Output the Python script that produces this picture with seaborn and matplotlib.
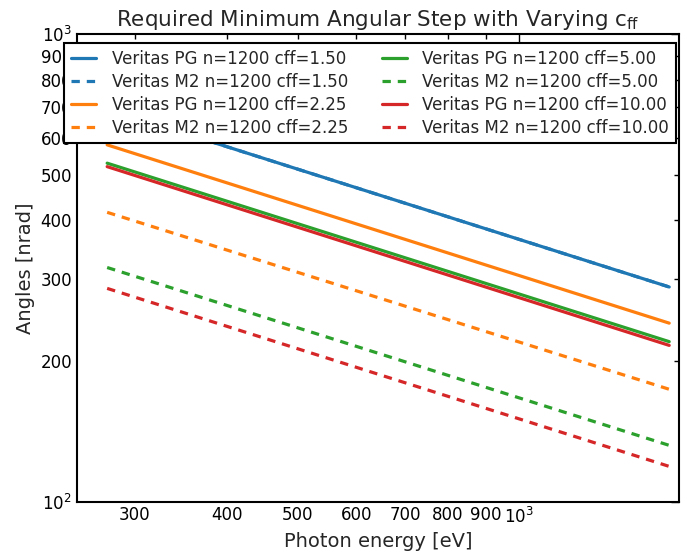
import matplotlib
matplotlib.use("Agg")
import matplotlib.pyplot as plt
from matplotlib.ticker import FixedLocator, FuncFormatter, LogFormatterSciNotation
import numpy as np
import pandas as pd
import seaborn as sns

# Photon energy range of the scan [eV]
energy = [275, 1600]

# Minimum angular step [nrad] at the ends of the energy range
pg_cff150 = [693, 288]
m2_cff150 = [693, 288]
pg_cff225 = [580, 241]
m2_cff225 = [416, 174]
pg_cff500 = [530, 220]
m2_cff500 = [317, 132]
pg_cff1000 = [521, 216]
m2_cff1000 = [286, 119]

dashed = (0, (6, 5))
series = [
    ("Veritas PG n=1200 cff=1.50", pg_cff150, "#1f77b4", "-"),
    ("Veritas M2 n=1200 cff=1.50", m2_cff150, "#1f77b4", dashed),
    ("Veritas PG n=1200 cff=2.25", pg_cff225, "#ff7f0e", "-"),
    ("Veritas M2 n=1200 cff=2.25", m2_cff225, "#ff7f0e", dashed),
    ("Veritas PG n=1200 cff=5.00", pg_cff500, "#2ca02c", "-"),
    ("Veritas M2 n=1200 cff=5.00", m2_cff500, "#2ca02c", dashed),
    ("Veritas PG n=1200 cff=10.00", pg_cff1000, "#d62728", "-"),
    ("Veritas M2 n=1200 cff=10.00", m2_cff1000, "#d62728", dashed),
]

sns.set_style("white")
plt.rcParams.update({
    "font.family": ["DejaVu Sans"],
    "mathtext.default": "regular",
    "xtick.direction": "in",
    "ytick.direction": "in",
    "xtick.top": True,
    "ytick.right": True,
    "axes.edgecolor": "black",
    "axes.linewidth": 1.5,
    "lines.scale_dashes": False,
})

fig = plt.figure(figsize=(6.87, 5.52), dpi=100)
ax = fig.add_axes([0.1117, 0.0911, 0.8767, 0.8468])

for label, vals, color, ls in series:
    df = pd.DataFrame({"energy": energy, "angle": vals})
    sns.lineplot(data=df, x="energy", y="angle", ax=ax, color=color,
                 linestyle=ls, linewidth=2.3, label=label)

ax.set_xscale("log")
ax.set_yscale("log")
ax.set_xlim(250, 1650)
ax.set_ylim(100, 1000)

ax.xaxis.set_major_locator(FixedLocator([1000]))
ax.xaxis.set_minor_locator(FixedLocator([300, 400, 500, 600, 700, 800, 900]))
ax.yaxis.set_major_locator(FixedLocator([100, 1000]))
ax.yaxis.set_minor_locator(FixedLocator([200, 300, 400, 500, 600, 700, 800, 900]))
ax.xaxis.set_major_formatter(LogFormatterSciNotation())
ax.yaxis.set_major_formatter(LogFormatterSciNotation())
intfmt = FuncFormatter(lambda v, p: f"{v:.0f}")
ax.xaxis.set_minor_formatter(intfmt)
ax.yaxis.set_minor_formatter(intfmt)
ax.tick_params(which="both", labelsize=12, colors="black")
ax.tick_params(which="major", length=6, width=1)
ax.tick_params(which="minor", length=3.5, width=1)

ax.set_xlabel("Photon energy [eV]", fontsize=14)
ax.set_ylabel("Angles [nrad]", fontsize=14)
ax.set_title("Required Minimum Angular Step with Varying $c_{ff}$", fontsize=15.5)

leg = ax.legend(loc="upper center", bbox_to_anchor=(0.487, 0.981), ncol=2,
                fontsize=12, frameon=True, fancybox=False, borderaxespad=0,
                handlelength=1.5, handletextpad=0.95, columnspacing=2.0,
                labelspacing=0.3, borderpad=0.4)
leg.get_frame().set_edgecolor("black")
leg.get_frame().set_linewidth(1.5)
leg.get_frame().set_alpha(1)

fig.savefig("out.png", dpi=100)
